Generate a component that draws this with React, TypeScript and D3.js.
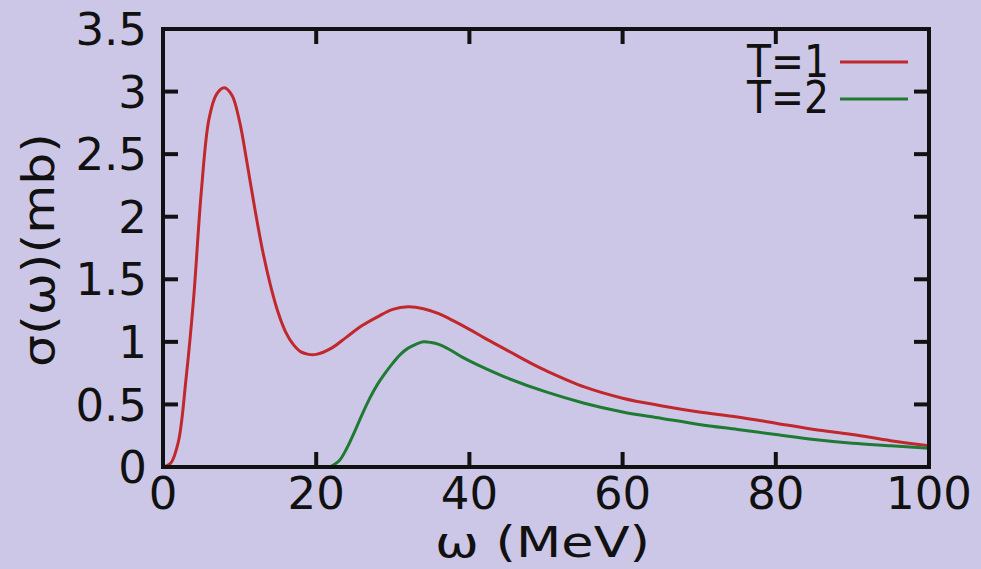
import React from "react";
import * as d3 from "d3";

const xTicks = [0, 20, 40, 60, 80, 100];
const yTicks = [0, 0.5, 1, 1.5, 2, 2.5, 3, 3.5];
const yTickLabels = ["0", "0.5", "1", "1.5", "2", "2.5", "3", "3.5"];

const t1X = [0, 1, 2, 3, 4, 5, 6, 7, 8, 9, 10, 11, 12, 13, 14, 15, 16, 17, 18, 19, 20, 22, 24, 26, 28, 30, 32, 34, 36, 38, 40, 42, 45, 48, 50, 55, 60, 65, 70, 75, 80, 85, 90, 95, 100];
const t1Y = [0, 0.03, 0.2, 0.7, 1.35, 2.2, 2.78, 2.98, 3.03, 2.97, 2.76, 2.42, 2.06, 1.73, 1.46, 1.24, 1.08, 0.98, 0.92, 0.9, 0.9, 0.95, 1.04, 1.13, 1.2, 1.26, 1.28, 1.265, 1.225, 1.165, 1.1, 1.03, 0.93, 0.83, 0.77, 0.64, 0.55, 0.49, 0.44, 0.4, 0.35, 0.3, 0.26, 0.21, 0.17];

const t2X = [21.8, 23, 24, 25, 26, 27, 28, 29, 30, 31, 32, 33, 34, 35, 36, 37, 38, 39, 40, 42, 45, 50, 55, 60, 65, 70, 75, 80, 85, 90, 95, 100];
const t2Y = [0, 0.05, 0.15, 0.28, 0.42, 0.55, 0.66, 0.75, 0.83, 0.9, 0.95, 0.98, 1.0, 0.995, 0.98, 0.952, 0.917, 0.88, 0.848, 0.79, 0.71, 0.6, 0.51, 0.44, 0.39, 0.34, 0.3, 0.26, 0.22, 0.19, 0.17, 0.15];

const seriesNames = ["T=1", "T=2"];
const seriesColors = ["#c0282c", "#1f7a34"];

export default function App() {
  const W = 981, H = 569;
  const L = 163, R = 929, T = 29, B = 467;
  const x = d3.scaleLinear().domain([0, 100]).range([L, R]);
  const y = d3.scaleLinear().domain([0, 3.5]).range([B, T]);
  const line = d3.line<number>().curve(d3.curveCatmullRom.alpha(0.5));
  const p1 = line(t1X.map((v, i) => [x(v), y(t1Y[i])]) as any);
  const p2 = line(t2X.map((v, i) => [x(v), y(t2Y[i])]) as any);
  const font = "DejaVu Sans, Verdana, sans-serif";
  const tl = 15;
  return (
    <div style={{ position: "fixed", left: 0, top: 0, width: W, height: H }}>
      <svg width={W} height={H} style={{ display: "block", background: "#cdc7e7" }}>
        <rect x={0} y={0} width={W} height={H} fill="#cdc7e7" />
        <defs>
          <clipPath id="plot">
            <rect x={L} y={T} width={R - L} height={B - T} />
          </clipPath>
        </defs>
        <g clipPath="url(#plot)">
          <path d={p1 || ""} fill="none" stroke={seriesColors[0]} strokeWidth={3} />
          <path d={p2 || ""} fill="none" stroke={seriesColors[1]} strokeWidth={3} />
        </g>
        {xTicks.map((t) => (
          <g key={"x" + t}>
            <line x1={x(t)} x2={x(t)} y1={B} y2={B - tl} stroke="#111" strokeWidth={4} />
            <line x1={x(t)} x2={x(t)} y1={T} y2={T + tl} stroke="#111" strokeWidth={4} />
            <text x={x(t)} y={509} fontSize={45} fontFamily={font} textAnchor="middle" fill="#111">{t}</text>
          </g>
        ))}
        {yTicks.map((t, i) => (
          <g key={"y" + t}>
            <line x1={L} x2={L + tl} y1={y(t)} y2={y(t)} stroke="#111" strokeWidth={4} />
            <line x1={R} x2={R - tl} y1={y(t)} y2={y(t)} stroke="#111" strokeWidth={4} />
            <text x={147} y={y(t)} dy="0.36em" fontSize={45} fontFamily={font} textAnchor="end" fill="#111">{yTickLabels[i]}</text>
          </g>
        ))}
        <rect x={L} y={T} width={R - L} height={B - T} fill="none" stroke="#111" strokeWidth={4} />
        <text x={435} y={557} fontSize={42} fontFamily={font} textAnchor="start" textLength={215} lengthAdjust="spacingAndGlyphs" fill="#111">ω (MeV)</text>
        <text transform={`translate(54,367) rotate(-90)`} fontSize={45} fontFamily={font} textAnchor="start" textLength={234} lengthAdjust="spacingAndGlyphs" fill="#111">σ(ω)(mb)</text>
        {seriesNames.map((n, i) => (
          <g key={n}>
            <text x={747} y={77 + i * 36} fontSize={44} fontFamily={font} textAnchor="start" textLength={82} lengthAdjust="spacingAndGlyphs" fill="#111">{n}</text>
            <line x1={840} x2={908} y1={62 + i * 37} y2={62 + i * 37} stroke={seriesColors[i]} strokeWidth={3} />
          </g>
        ))}
      </svg>
    </div>
  );
}
